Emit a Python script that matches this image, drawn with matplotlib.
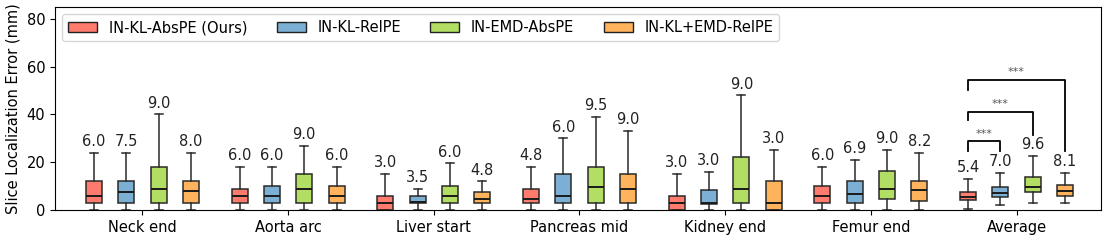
import numpy as np
import matplotlib
matplotlib.use("Agg")
import matplotlib.pyplot as plt
from matplotlib.patches import Patch

# categories and methods
categories = ["Neck end", "Aorta arc", "Liver start", "Pancreas mid",
              "Kidney end", "Femur end", "Average"]
methods = ["IN-KL-AbsPE (Ours)", "IN-KL-RelPE", "IN-EMD-AbsPE", "IN-KL+EMD-RelPE"]
colors = ["#ff7b6e", "#7bafd4", "#b2de64", "#ffb35c"]

# box stats: [whislo, q1, med, q3, whishi], per category, per method
kl_abs = [[0, 3, 6.0, 12, 24], [0, 3, 6.0, 9, 18], [0, 0, 3.0, 6, 15],
          [0, 3, 4.8, 9, 18], [0, 0, 3.0, 6, 15], [0, 3, 6.0, 10, 18],
          [0.3, 4.1, 5.4, 7.7, 13]]
kl_rel = [[0, 3, 7.5, 12, 24], [0, 3, 6.0, 10, 18], [0, 3, 3.5, 6, 9],
          [0, 3, 6.0, 15, 30], [0, 2.5, 3.0, 8.5, 16], [0, 3, 6.9, 12, 21],
          [2.0, 5.3, 7.0, 9.5, 15.5]]
emd_abs = [[0, 3, 9.0, 18, 40], [0, 3, 9.0, 15, 27], [0, 3, 6.0, 10, 19.5],
           [0, 3, 9.5, 18, 39], [0, 3, 9.0, 22, 48], [0, 4.7, 9.0, 16.5, 25],
           [2.8, 7.4, 9.6, 14, 22.7]]
klemd_rel = [[0, 3, 8.0, 12, 24], [0, 3, 6.0, 10, 18], [0, 3, 4.8, 7.5, 12],
             [0, 3, 9.0, 15, 33], [0, 0, 3.0, 12, 25], [0, 3.7, 8.2, 12, 24],
             [2.8, 5.9, 8.1, 10.4, 15.5]]
series = [kl_abs, kl_rel, emd_abs, klemd_rel]

# significance brackets on Average: (method a, method b, bracket top, leg bottoms)
sig_pairs = [(0, 1, 28.7, 24.5, 24.5), (0, 2, 41, 37.5, 31.5), (0, 3, 54.3, 50.4, 24.5)]

fig, ax = plt.subplots(figsize=(11.09, 2.41), dpi=100)
fig.subplots_adjust(left=0.0496, right=0.9928, bottom=0.1286, top=0.971)

spacing = 0.222
width = 0.11
offsets = (np.arange(4) - 1.5) * spacing
pos = np.arange(len(categories))

for m in range(4):
    stats = []
    for c in range(len(categories)):
        lo, q1, med, q3, hi = series[m][c]
        stats.append(dict(whislo=lo, q1=q1, med=med, q3=q3, whishi=hi, fliers=[]))
    bp = ax.bxp(stats, positions=pos + offsets[m], widths=width, patch_artist=True,
                showfliers=False, manage_ticks=False,
                boxprops=dict(facecolor=colors[m], edgecolor="#2a2a2a", linewidth=1.1),
                medianprops=dict(color="#1a1a1a", linewidth=1.4),
                whiskerprops=dict(color="#2a2a2a", linewidth=1.1),
                capprops=dict(color="#2a2a2a", linewidth=1.1))
    for c in range(len(categories)):
        ax.text(pos[c] + offsets[m], series[m][c][4] + 1.6, f"{series[m][c][2]:.1f}",
                ha="center", va="bottom", fontsize=10.5, color="#222222")

# brackets
avg = len(categories) - 1
for a, b, top, la, lb in sig_pairs:
    xa = pos[avg] + offsets[a]
    xb = pos[avg] + offsets[b]
    ax.plot([xa, xa, xb, xb], [la, top, top, lb], color="black", linewidth=1.3)
    ax.text((xa + xb) / 2, top + 1.2, "***", ha="center", va="bottom",
            fontsize=8, color="#555555")

ax.set_xlim(-0.6, 6.58)
ax.set_ylim(0, 85)
ax.set_yticks([0, 20, 40, 60, 80])
ax.set_xticks(pos)
ax.set_xticklabels(categories)
ax.tick_params(labelsize=10.5)
ax.set_ylabel("Slice Localization Error (mm)", fontsize=10.5)

handles = [Patch(facecolor=colors[m], edgecolor="#222222", label=methods[m]) for m in range(4)]
ax.legend(handles=handles, loc="upper left", ncol=4, fontsize=10.5,
          handlelength=2.0, columnspacing=2.0, borderaxespad=0.5)

fig.savefig("out.png", dpi=100)
